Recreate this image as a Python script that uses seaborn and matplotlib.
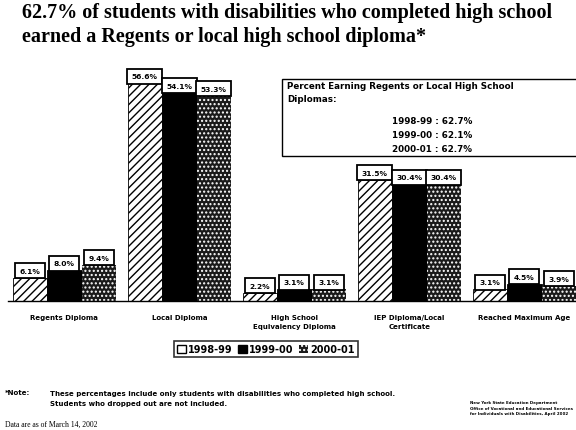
import pandas as pd
import matplotlib.pyplot as plt
import seaborn as sns
from matplotlib.patches import Patch

# --- data ---
categories = ["Regents Diploma", "Local Diploma", "High School\nEquivalency Diploma",
              "IEP Diploma/Local\nCertificate", "Reached Maximum Age"]
years = ["1998-99", "1999-00", "2000-01"]
vals_1998 = [6.1, 56.6, 2.2, 31.5, 3.1]
vals_1999 = [8.0, 54.1, 3.1, 30.4, 4.5]
vals_2000 = [9.4, 53.3, 3.1, 30.4, 3.9]
summary_lines = ["1998-99 : 62.7%", "1999-00 : 62.1%", "2000-01 : 62.7%"]

rows = []
for yr, vals in zip(years, [vals_1998, vals_1999, vals_2000]):
    for c, v in zip(categories, vals):
        rows.append({"cat": c, "year": yr, "pct": v})
df = pd.DataFrame(rows)

sns.set_style("white")
plt.rcParams["font.family"] = ["DejaVu Sans"]
plt.rcParams["text.color"] = "black"
plt.rcParams["xtick.color"] = "black"

fig = plt.figure(figsize=(5.76, 4.31), dpi=100)
ax = fig.add_axes([0.014, 0.299, 0.986, 0.58])

styles = [("white", "////"), ("black", ""), ("#1a1a1a", "....")]
sns.barplot(data=df, x="cat", y="pct", hue="year", order=categories, hue_order=years,
            palette=["white", "black", "#1a1a1a"], width=0.9, gap=0, ax=ax,
            legend=False, saturation=1)

for cont, (fc, hatch) in zip(ax.containers, styles):
    for bar, v in zip(cont, cont.datavalues):
        bar.set_facecolor(fc)
        bar.set_hatch(hatch)
        speckled = hatch == "...."
        bar.set_edgecolor("white" if speckled else "black")
        bar.set_linewidth(0 if speckled else 0.6)
        ax.annotate(f"{v:.1f}%", (bar.get_x() + bar.get_width() / 2, bar.get_height()),
                    xytext=(0, 3), textcoords="offset points", ha="center", va="bottom",
                    fontsize=5.4, fontweight="bold",
                    bbox=dict(boxstyle="square,pad=0.6", fc="white", ec="black", lw=1.3))

ax.set_xlim(-0.49, 4.45)
ax.set_ylim(0, 65)
ax.set_xlabel("")
ax.set_ylabel("")
ax.set_yticks([])
ax.tick_params(axis="x", length=0, pad=9)
ax.set_xticks(range(len(categories)))
ax.set_xticklabels(categories, fontsize=5, fontweight="bold", linespacing=1.7)
for s in ["top", "left", "right"]:
    ax.spines[s].set_visible(False)
ax.spines["bottom"].set_color("black")
ax.spines["bottom"].set_linewidth(1.0)

# summary box
fig.patches.append(plt.Rectangle((282 / 576, 1 - 157 / 431), 300 / 576, 77 / 431,
                                 transform=fig.transFigure, fc="white", ec="black", lw=1.0))
fig.text(287 / 576, 1 - 93 / 431, "Percent Earning Regents or Local High School\nDiplomas:",
         fontsize=6.3, fontweight="bold", va="center", linespacing=1.5)
for i, line in enumerate(summary_lines):
    fig.text(432 / 576, 1 - (122 + 14 * i) / 431, line, fontsize=6.3, fontweight="bold",
             ha="center", va="center")

# title
fig.text(22 / 576, 1 - 25 / 431,
         "62.7% of students with disabilities who completed high school\n"
         "earned a Regents or local high school diploma*",
         family="Liberation Serif", fontweight="bold", fontsize=14.5, ha="left",
         va="center", linespacing=1.3)

# legend
handles = [Patch(fc="white", ec="black", hatch=""), Patch(fc="black", ec="black"),
           Patch(fc="#1a1a1a", ec="white", hatch="....", lw=0)]
leg = fig.legend(handles, years, loc="center", bbox_to_anchor=(266 / 576, 1 - 350 / 431),
                 ncol=3, fontsize=7, frameon=True, handlelength=0.9, handleheight=0.9,
                 handletextpad=0.2, columnspacing=0.6, borderpad=0.3, fancybox=False)
leg.get_frame().set_edgecolor("black")
leg.get_frame().set_linewidth(1.2)
for t in leg.get_texts():
    t.set_fontweight("bold")

# footnotes
fig.text(5 / 576, 1 - 393 / 431, "*Note:", fontsize=5, fontweight="bold", va="center")
fig.text(50 / 576, 1 - 399 / 431,
         "These percentages include only students with disabilities who completed high school.\n"
         "Students who dropped out are not included.",
         fontsize=5, fontweight="bold", va="center", linespacing=1.7)
fig.text(5 / 576, 1 - 425 / 431, "Data are as of March 14, 2002", family="Liberation Serif",
         fontsize=5.5, va="center")
fig.text(470 / 576, 1 - 409 / 431,
         "New York State Education Department\nOffice of Vocational and Educational Services\n"
         "for Individuals with Disabilities, April 2002",
         fontsize=2.9, fontweight="bold", va="center", linespacing=1.5)

fig.savefig("out.png", dpi=100)
